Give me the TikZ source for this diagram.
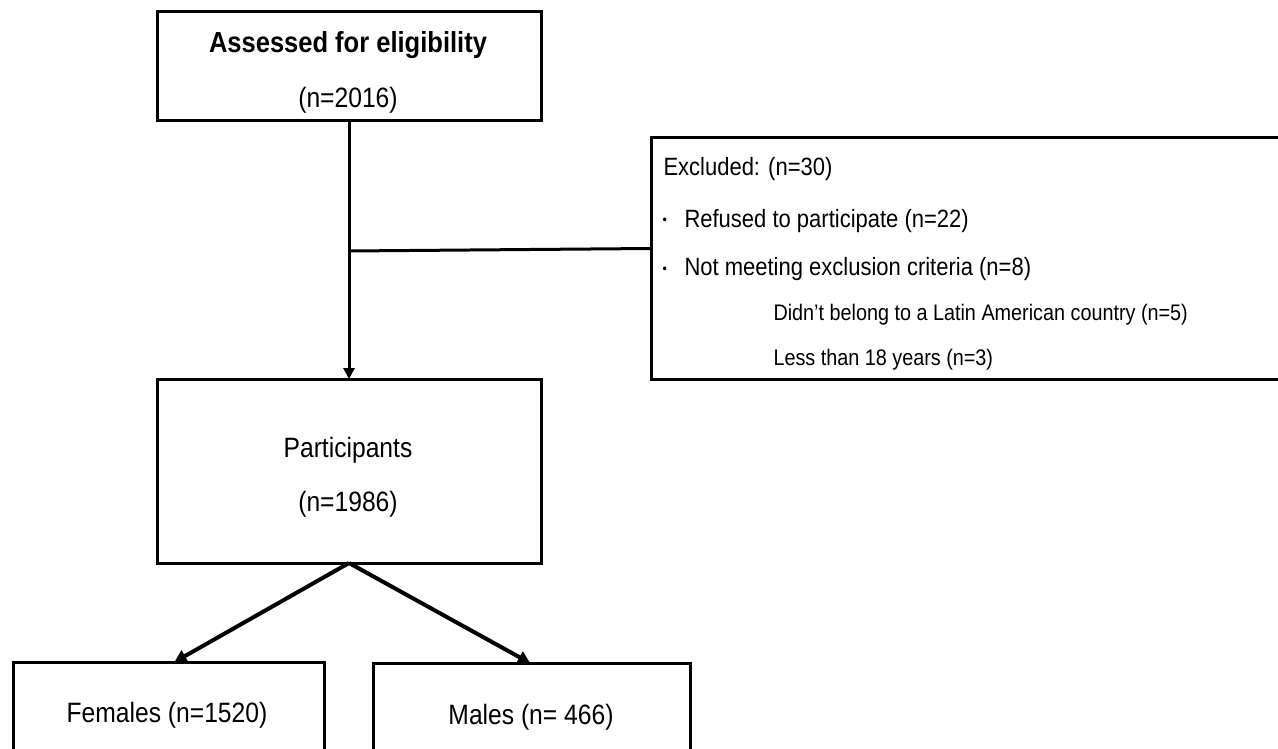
\documentclass[tikz,border=0pt]{standalone}
\usepackage{fontspec}
\setmainfont{Liberation Sans}[FakeStretch=0.88]
\usetikzlibrary{arrows.meta}
\begin{document}
\begin{tikzpicture}[x=1pt,y=-1pt,line width=3pt,
  box/.style={draw,line width=3pt,inner sep=0pt,outer sep=0pt},
  txt/.style={inner sep=0pt,anchor=base,font=\fontsize{28}{32}\selectfont},
  ex/.style={inner sep=0pt,anchor=base west,font=\fontsize{25}{29}\selectfont},
  subtxt/.style={inner sep=0pt,anchor=base west,font=\fontsize{22.5}{26}\selectfont},
  bul/.style={inner sep=0pt,anchor=base west,font=\fontsize{14}{16}\selectfont},
  arr/.style={-{Triangle[length=11pt,width=11pt]},line width=3pt},
  arrb/.style={-{Triangle[length=12pt,width=13pt]},line width=4pt}]
\useasboundingbox (0,0) rectangle (1278,749);
\clip (0,0) rectangle (1278,749);
\fill[white] (0,0) rectangle (1278,749);
% boxes
\node[box,minimum width=384pt,minimum height=109pt] (assess) at (349,66.5) {};
\node[box,minimum width=384pt,minimum height=184pt] (part) at (349,471) {};
\node[box,minimum width=629pt,minimum height=241pt] (excl) at (965.5,258.5) {};
\node[box,minimum width=311pt,minimum height=138pt] (fem) at (168.5,731) {};
\node[box,minimum width=317pt,minimum height=137pt] (male) at (531.5,731.5) {};
% connectors
\coordinate (j) at (349,251);
\draw[arr] (assess.south) -- (part.north);
\draw (j) -- ([yshift=10pt]excl.west);
\draw[arrb] (part.south) -- ([xshift=6pt]fem.north);
\draw[arrb] (part.south) -- ([xshift=-1.5pt]male.north);
% texts
\node[txt,font=\bfseries\fontsize{29}{32}\selectfont] (t1) at (348,53) {Assessed for eligibility};
\node[txt] (t2) at (348,108) {(n=2016)};
\node[txt] (t3) at (348,457) {Participants};
\node[txt] (t4) at (348,511) {(n=1986)};
\node[txt] (t5) at (167,722) {Females (n=1520)};
\node[txt] (t6) at (531,724) {Males (n= 466)};
\node[ex] (e1) at (662,176) {Excluded: (n=30)};
\node[bul] (b1) at (661,225) {•};
\node[ex] (e2) at (683,227) {Refused to participate (n=22)};
\node[bul] (b2) at (661,273) {•};
\node[ex] (e3) at (683,275) {Not meeting exclusion criteria (n=8)};
\node[subtxt] (e4) at (772,320) {Didn’t belong to a Latin American country (n=5)};
\node[subtxt] (e5) at (772,365) {Less than 18 years (n=3)};
\end{tikzpicture}
\end{document}
